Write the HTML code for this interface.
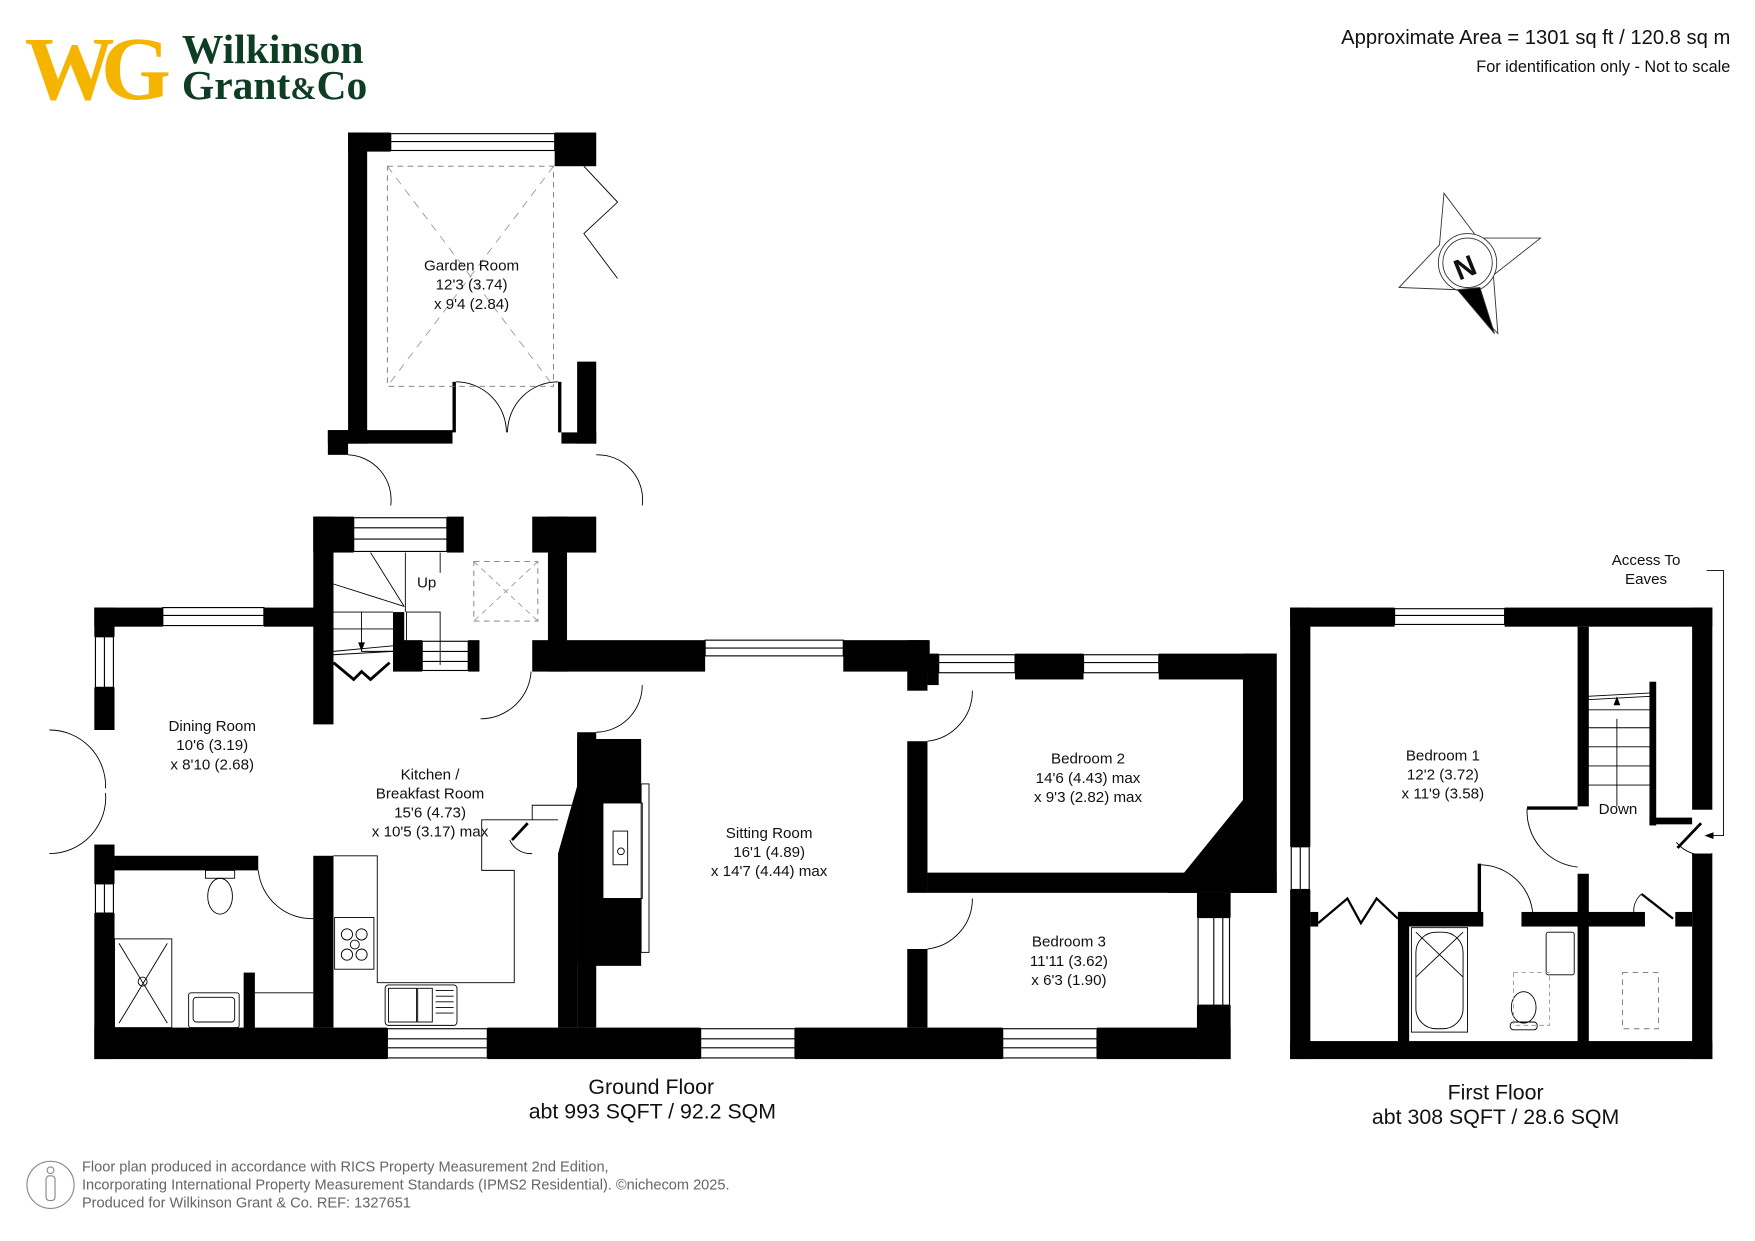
<!DOCTYPE html>
<html><head><meta charset="utf-8"><style>
html,body{margin:0;padding:0;background:#fff;}
svg{display:block;}
text{font-family:"Liberation Sans",sans-serif;fill:#111;}
</style></head><body>
<svg width="1755" height="1241" viewBox="0 0 1563 1105" preserveAspectRatio="none" xmlns="http://www.w3.org/2000/svg">
<rect width="1563" height="1105" fill="#fff"/>
<text x="22" y="88" font-size="80" font-weight="bold" style="fill:#f5b400;font-family:'Liberation Serif',serif;letter-spacing:-12px">WG</text>
<text x="162" y="56" font-size="37" font-weight="bold" style="fill:#0f3d24;font-family:'Liberation Serif',serif">Wilkinson</text>
<text x="162" y="88" font-size="37" font-weight="bold" style="fill:#0f3d24;font-family:'Liberation Serif',serif">Grant<tspan font-size="28">&amp;</tspan>Co</text>
<text x="1541" y="39" font-size="18" text-anchor="end">Approximate Area = 1301 sq ft / 120.8 sq m</text>
<text x="1541" y="64" font-size="14.5" text-anchor="end">For identification only - Not to scale</text>

<g stroke="#333" stroke-width="0.8" fill="#fff">
<polygon points="1286,172 1316,212 1372,212 1330,245 1334,297 1298,258 1246,256 1282,218"/>
<circle cx="1307" cy="234" r="26"/><circle cx="1307" cy="234" r="22"/>
<polygon points="1298,258 1318,256 1331,297" fill="#000"/>
</g>
<text x="1294" y="246" font-size="26" font-weight="bold" transform="rotate(-22 1307 234)">N</text>

<g fill="#000">
<rect x="310" y="118" width="38" height="17"/>
<rect x="494" y="118" width="37" height="30"/>
<rect x="310" y="118" width="17" height="277"/>
<rect x="292" y="383" width="111" height="12"/>
<rect x="292" y="383" width="18" height="22"/>
<rect x="514" y="322" width="17" height="73"/>
<rect x="500" y="385" width="31" height="10"/>
<rect x="403" y="340" width="3" height="45"/>
<rect x="497" y="340" width="3" height="45"/>
<rect x="279" y="460" width="36" height="32"/>
<rect x="398" y="460" width="15" height="32"/>
<rect x="279" y="460" width="18" height="185"/>
<rect x="474" y="460" width="57" height="32"/>
<rect x="488" y="460" width="17" height="138"/>
<rect x="350" y="570" width="26" height="28"/>
<rect x="417" y="570" width="10" height="28"/>
<rect x="350" y="545" width="10" height="30"/>
<rect x="474" y="570" width="154" height="28"/>
<rect x="751" y="570" width="77" height="28"/>
<rect x="808" y="570" width="18" height="45"/>
<rect x="84" y="541" width="61" height="17"/>
<rect x="235" y="541" width="62" height="17"/>
<rect x="84" y="541" width="18" height="26"/>
<rect x="84" y="612" width="18" height="38"/>
<rect x="84" y="752" width="18" height="35"/>
<rect x="84" y="813" width="18" height="130"/>
<rect x="102" y="762" width="128" height="13"/>
<rect x="217" y="866" width="10" height="50"/>
<rect x="279" y="762" width="18" height="153"/>
<rect x="84" y="915" width="261" height="28"/>
<rect x="434" y="915" width="190" height="28"/>
<rect x="708" y="915" width="185" height="28"/>
<rect x="977" y="915" width="119" height="28"/>
<rect x="514" y="652" width="17" height="263"/>
<rect x="514" y="658" width="57" height="202"/>
<polygon points="497,760 514,700 514,915 497,915"/>
<rect x="808" y="660" width="18" height="135"/>
<rect x="808" y="845" width="18" height="70"/>
<rect x="826" y="582" width="10" height="28"/>
<rect x="904" y="582" width="61" height="23"/>
<rect x="1032" y="582" width="105" height="23"/>
<rect x="1107" y="582" width="30" height="213"/>
<polygon points="1117,605 1137,605 1137,795 1040,795 1117,700"/>
<rect x="826" y="777" width="311" height="18"/>
<rect x="1066" y="795" width="30" height="22"/>
<rect x="1066" y="895" width="30" height="48"/>
<rect x="1149" y="541" width="93" height="17"/>
<rect x="1340" y="541" width="185" height="17"/>
<rect x="1149" y="541" width="18" height="213"/>
<rect x="1149" y="792" width="18" height="151"/>
<rect x="1149" y="927" width="376" height="16"/>
<rect x="1507" y="541" width="18" height="180"/>
<rect x="1507" y="760" width="18" height="183"/>
<rect x="1405" y="558" width="10" height="160"/>
<rect x="1469" y="607" width="6" height="128"/>
<rect x="1469" y="728" width="38" height="6"/>
<rect x="1360" y="718" width="45" height="3"/>
<rect x="1316" y="769" width="3" height="52"/>
<rect x="1405" y="778" width="10" height="150"/>
<rect x="1167" y="812" width="7" height="13"/>
<rect x="1245" y="812" width="76" height="13"/>
<rect x="1355" y="812" width="110" height="13"/>
<rect x="1492" y="812" width="15" height="13"/>
<rect x="1245" y="812" width="10" height="116"/>
</g>

<g fill="#fff" stroke="#000" stroke-width="1">
<rect x="348" y="119" width="146" height="15"/><line x1="348" y1="126" x2="494" y2="126"/>
<rect x="315" y="461" width="83" height="30"/><line x1="315" y1="470" x2="398" y2="470"/><line x1="315" y1="480" x2="398" y2="480"/>
<rect x="376" y="571" width="41" height="26"/><line x1="376" y1="580" x2="417" y2="580"/><line x1="376" y1="589" x2="417" y2="589"/>
<rect x="628" y="570" width="123" height="14"/><line x1="628" y1="577" x2="751" y2="577"/>
<rect x="145" y="541" width="90" height="16"/><line x1="145" y1="548" x2="235" y2="548"/>
<rect x="85" y="567" width="16" height="45"/><line x1="93" y1="567" x2="93" y2="612"/>
<rect x="85" y="787" width="16" height="26"/><line x1="93" y1="787" x2="93" y2="813"/>
<rect x="345" y="916" width="89" height="26"/><line x1="345" y1="925" x2="434" y2="925"/><line x1="345" y1="933" x2="434" y2="933"/>
<rect x="624" y="916" width="84" height="26"/><line x1="624" y1="925" x2="708" y2="925"/><line x1="624" y1="933" x2="708" y2="933"/>
<rect x="893" y="916" width="84" height="26"/><line x1="893" y1="925" x2="977" y2="925"/><line x1="893" y1="933" x2="977" y2="933"/>
<rect x="836" y="583" width="68" height="16"/><line x1="836" y1="590" x2="904" y2="590"/>
<rect x="965" y="583" width="67" height="16"/><line x1="965" y1="590" x2="1032" y2="590"/>
<rect x="1067" y="817" width="28" height="78"/><line x1="1081" y1="817" x2="1081" y2="895"/><line x1="1089" y1="817" x2="1089" y2="895"/>
<rect x="1242" y="542" width="98" height="14"/><line x1="1242" y1="548" x2="1340" y2="548"/>
<rect x="1150" y="754" width="16" height="38"/><line x1="1158" y1="754" x2="1158" y2="792"/>
</g>

<g fill="none" stroke="#000" stroke-width="0.8">
<polyline points="520,148 550,180 520,208 550,248"/>
<path d="M406,340 A45,45 0 0 1 451,385"/><path d="M497,340 A45,45 0 0 0 452,385"/>
<path d="M310,405 A40,40 0 0 1 348,450"/><path d="M531,405 A40,40 0 0 1 572,450"/>
<path d="M428,640 A45,45 0 0 0 473,598"/>
<path d="M531,652 A42,42 0 0 0 572,610"/>
<path d="M826,660 A45,45 0 0 0 866,615"/><path d="M826,845 A45,45 0 0 0 866,800"/>
<path d="M230,775 A48,48 0 0 0 279,818"/>
<path d="M44,650 A50,50 0 0 1 94,702"/><path d="M44,760 A50,50 0 0 0 94,706"/>
<path d="M1360,720 A50,50 0 0 0 1405,772"/>
<path d="M1319,770 A48,48 0 0 1 1365,812"/>
<path d="M1493,750 A30,30 0 0 0 1525,760"/>
<polyline points="1520,508 1535,508 1535,744 1520,744"/>
<rect x="345" y="148" width="148" height="196" stroke-dasharray="5,4" stroke="#777"/>
<line x1="345" y1="148" x2="493" y2="344" stroke-dasharray="7,6" stroke="#999"/>
<line x1="493" y1="148" x2="345" y2="344" stroke-dasharray="7,6" stroke="#999"/>
<rect x="422" y="500" width="57" height="53" stroke-dasharray="5,4" stroke="#777"/>
<line x1="422" y1="500" x2="479" y2="553" stroke-dasharray="5,4" stroke="#999"/>
<line x1="479" y1="500" x2="422" y2="553" stroke-dasharray="5,4" stroke="#999"/>
<rect x="1445" y="866" width="32" height="50" stroke-dasharray="5,4" stroke="#777"/>
<line x1="297" y1="545" x2="350" y2="545"/><line x1="297" y1="560" x2="350" y2="560"/>
<line x1="297" y1="580" x2="350" y2="575"/><line x1="297" y1="583" x2="350" y2="580"/>
<polyline points="322,545 322,580 362,580 362,545 392,545 392,592"/>
<line x1="361" y1="545" x2="361" y2="492"/><line x1="392" y1="510" x2="392" y2="492"/>
<line x1="360" y1="540" x2="330" y2="492"/><line x1="360" y1="540" x2="297" y2="520"/>
<line x1="341" y1="580" x2="361" y2="580"/>
<polyline points="297,590 315,605 322,598 330,605 347,590" stroke-width="2.5"/>
<polyline points="297,762 336,762 336,875 458,875 458,775 429,775 429,730 497,730"/>
<rect x="298" y="817" width="35" height="46"/>
<circle cx="309" cy="832" r="5"/><circle cx="322" cy="832" r="5"/><circle cx="316" cy="841" r="4"/><circle cx="309" cy="850" r="5"/><circle cx="322" cy="850" r="5"/>
<rect x="343" y="877" width="64" height="36" rx="3"/>
<rect x="346" y="880" width="25" height="30"/><rect x="372" y="880" width="13" height="30"/>
<path d="M388,882 h16 M388,887 h16 M388,892 h16 M388,897 h16 M388,902 h16"/>
<rect x="537" y="715" width="35" height="85" fill="#fff"/>
<rect x="546" y="740" width="13" height="30"/><circle cx="553" cy="758" r="3"/>
<rect x="571" y="698" width="7" height="150"/>
<polyline points="474,730 474,717 514,717"/>
<line x1="456" y1="748" x2="470" y2="733" stroke-width="2.5"/>
<path d="M454,748 A20,20 0 0 0 474,760"/>
<ellipse cx="196" cy="798" rx="11" ry="16"/><rect x="183" y="775" width="26" height="7"/>
<rect x="102" y="836" width="51" height="79"/><line x1="106" y1="840" x2="149" y2="911"/><line x1="149" y1="840" x2="106" y2="911"/>
<circle cx="127" cy="874" r="4"/>
<rect x="168" y="884" width="45" height="31" rx="2"/><rect x="172" y="888" width="37" height="22" rx="3"/>
<line x1="227" y1="884" x2="279" y2="884"/>
<path d="M1414,632 h56 M1414,648 h56 M1414,665 h56 M1414,682 h56 M1414,699 h56"/>
<line x1="1414" y1="620" x2="1470" y2="617"/><line x1="1414" y1="623" x2="1470" y2="620"/>
<line x1="1440" y1="718" x2="1440" y2="640"/>
<line x1="1494" y1="755" x2="1515" y2="733" stroke-width="2.5"/>
<polyline points="1174,822 1200,800 1212,822 1226,800 1245,818" stroke-width="2"/>
<polyline points="1462,796 1490,818" stroke-width="2"/>
<path d="M1462,796 A20,20 0 0 0 1455,812"/>
<rect x="1257" y="826" width="50" height="93"/><rect x="1261" y="830" width="42" height="86" rx="18"/>
<line x1="1261" y1="830" x2="1303" y2="870"/><line x1="1303" y1="830" x2="1261" y2="870"/>
<rect x="1377" y="830" width="25" height="38" rx="2"/>
<ellipse cx="1357" cy="897" rx="11" ry="14"/><rect x="1345" y="910" width="24" height="7" rx="3"/>
<rect x="1348" y="866" width="32" height="47" stroke-dasharray="4,3" stroke="#999"/>
</g>
<polygon points="322,580 319,572 325,572" fill="#000"/>
<polygon points="1440,620 1437,628 1443,628" fill="#000"/>
<polygon points="1518,744 1526,741 1526,747" fill="#000"/>

<g font-size="13.5" text-anchor="middle">
<text x="420" y="241">Garden Room</text><text x="420" y="258">12'3 (3.74)</text><text x="420" y="275">x 9'4 (2.84)</text>
<text x="380" y="523">Up</text>
<text x="189" y="651">Dining Room</text><text x="189" y="668">10'6 (3.19)</text><text x="189" y="685">x 8'10 (2.68)</text>
<text x="383" y="694">Kitchen /</text><text x="383" y="711">Breakfast Room</text><text x="383" y="728">15'6 (4.73)</text><text x="383" y="745">x 10'5 (3.17) max</text>
<text x="685" y="746">Sitting Room</text><text x="685" y="763">16'1 (4.89)</text><text x="685" y="780">x 14'7 (4.44) max</text>
<text x="969" y="680">Bedroom 2</text><text x="969" y="697">14'6 (4.43) max</text><text x="969" y="714">x 9'3 (2.82) max</text>
<text x="952" y="843">Bedroom 3</text><text x="952" y="860">11'11 (3.62)</text><text x="952" y="877">x 6'3 (1.90)</text>
<text x="1285" y="677">Bedroom 1</text><text x="1285" y="694">12'2 (3.72)</text><text x="1285" y="711">x 11'9 (3.58)</text>
<text x="1441" y="725">Down</text>
<text x="1466" y="503">Access To</text><text x="1466" y="520">Eaves</text>
</g>
<g font-size="19" text-anchor="middle">
<text x="580" y="974">Ground Floor</text><text x="581" y="996">abt 993 SQFT / 92.2 SQM</text>
<text x="1332" y="979">First Floor</text><text x="1332" y="1001">abt 308 SQFT / 28.6 SQM</text>
</g>
<g font-size="13" style="fill:#666">
<text x="73" y="1043" style="fill:#666">Floor plan produced in accordance with RICS Property Measurement 2nd Edition,</text>
<text x="73" y="1059" style="fill:#666">Incorporating International Property Measurement Standards (IPMS2 Residential).  ©nichecom  2025.</text>
<text x="73" y="1075" style="fill:#666">Produced for Wilkinson Grant &amp; Co.  REF:  1327651</text>
</g>
<g fill="none" stroke="#888" stroke-width="1">
<circle cx="45" cy="1055" r="21"/><circle cx="45" cy="1042" r="3"/><rect x="41" y="1047" width="8" height="22" rx="3"/>
</g>
</svg>
</body></html>
